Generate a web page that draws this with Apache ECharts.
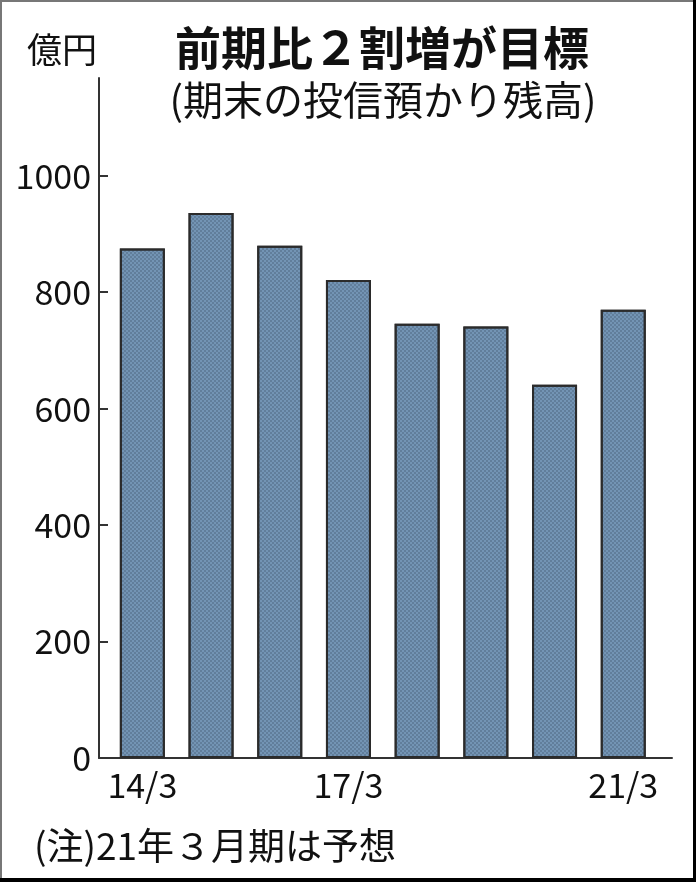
<!DOCTYPE html>
<html>
<head>
<meta charset="utf-8">
<script src="https://cdn.jsdelivr.net/npm/echarts@6/dist/echarts.min.js"></script>
<style>
  html, body { margin: 0; padding: 0; background: #000; }
  #chart {
    width: 693px; height: 878px; background: #fff;
    box-sizing: border-box; border-top: 2px solid #777; border-left: 2px solid #777;
  }
</style>
</head>
<body>
<div id="chart"></div>
<script>
// 期末の投信預かり残高（億円）
const categories = ['14/3', '15/3', '16/3', '17/3', '18/3', '19/3', '20/3', '21/3'];
const balances = [875, 936, 880, 821, 746, 741, 641, 770];
const shownLabels = ['14/3', '17/3', '21/3'];
const yTicks = [0, 200, 400, 600, 800, 1000];

const titleText = '前期比２割増が目標';
const subtitleText = '(期末の投信預かり残高)';
const unitText = '億円';
const noteText = '(注)21年３月期は予想';

const chartDom = document.getElementById('chart');
const myChart = echarts.init(chartDom);

const numFont = 'Noto Sans CJK JP';

const option = {
  animation: false,
  backgroundColor: '#fff',
  grid: [
    { left: 106, right: 35.4, top: 76, bottom: 120 },
    // 底辺の線だけ少し長く描くための grid
    { left: 97, right: 21, top: 76, bottom: 120 },
  ],
  xAxis: [
    {
      type: 'category',
      gridIndex: 0,
      data: categories,
      axisLine: { show: false },
      axisTick: { show: false },
      axisLabel: {
        interval: (i, v) => shownLabels.includes(v),
        margin: 10,
        color: '#111',
        fontFamily: numFont,
        fontSize: 34,
      },
    },
    {
      type: 'category',
      gridIndex: 1,
      data: categories,
      axisLine: { show: true, lineStyle: { color: '#333', width: 2 } },
      axisTick: { show: false },
      axisLabel: { show: false },
    },
  ],
  yAxis: [
    {
      type: 'value',
      gridIndex: 0,
      min: 0,
      max: 1168,
      interval: 200,
      offset: 9,
      axisLine: { show: true, lineStyle: { color: '#333', width: 2 } },
      axisTick: {
        show: true,
        inside: true,
        length: 9,
        customValues: yTicks,
        lineStyle: { color: '#333', width: 2 },
      },
      splitLine: { show: false },
      axisLabel: {
        customValues: yTicks,
        formatter: (v) => (yTicks.includes(v) ? String(v) : ''),
        margin: 8,
        color: '#111',
        fontFamily: numFont,
        fontSize: 34,
      },
    },
    {
      type: 'value',
      gridIndex: 1,
      show: false,
    },
  ],
  series: [
    {
      name: '投信預かり残高',
      type: 'bar',
      xAxisIndex: 0,
      yAxisIndex: 0,
      barWidth: 45,
      data: balances,
      itemStyle: {
        color: '#7394b4',
        borderColor: '#2b2b2b',
        borderWidth: 2,
        decal: {
          symbol: 'rect',
          symbolSize: 1,
          color: 'rgba(55, 75, 100, 0.3)',
          dashArrayX: [[2, 2], [0, 2, 2, 0]],
          dashArrayY: [2, 0],
        },
      },
    },
  ],
  graphic: [
    {
      type: 'text',
      x: 380, y: 46,
      style: {
        text: titleText,
        textAlign: 'center', textVerticalAlign: 'middle',
        font: 'bold 46px "Noto Sans CJK JP"',
        fill: '#111',
      },
    },
    {
      type: 'text',
      x: 381, y: 98,
      style: {
        text: subtitleText,
        textAlign: 'center', textVerticalAlign: 'middle',
        font: '40px "Noto Sans CJK JP"',
        fill: '#111',
      },
    },
    {
      type: 'text',
      x: 60, y: 48,
      style: {
        text: unitText,
        textAlign: 'center', textVerticalAlign: 'middle',
        font: '35px "Noto Sans CJK JP"',
        fill: '#111',
      },
    },
    {
      type: 'text',
      x: 32, y: 844,
      style: {
        text: noteText,
        textAlign: 'left', textVerticalAlign: 'middle',
        font: '37px "Noto Sans CJK JP"',
        fill: '#111',
      },
    },
  ],
};

myChart.setOption(option);
</script>
</body>
</html>
